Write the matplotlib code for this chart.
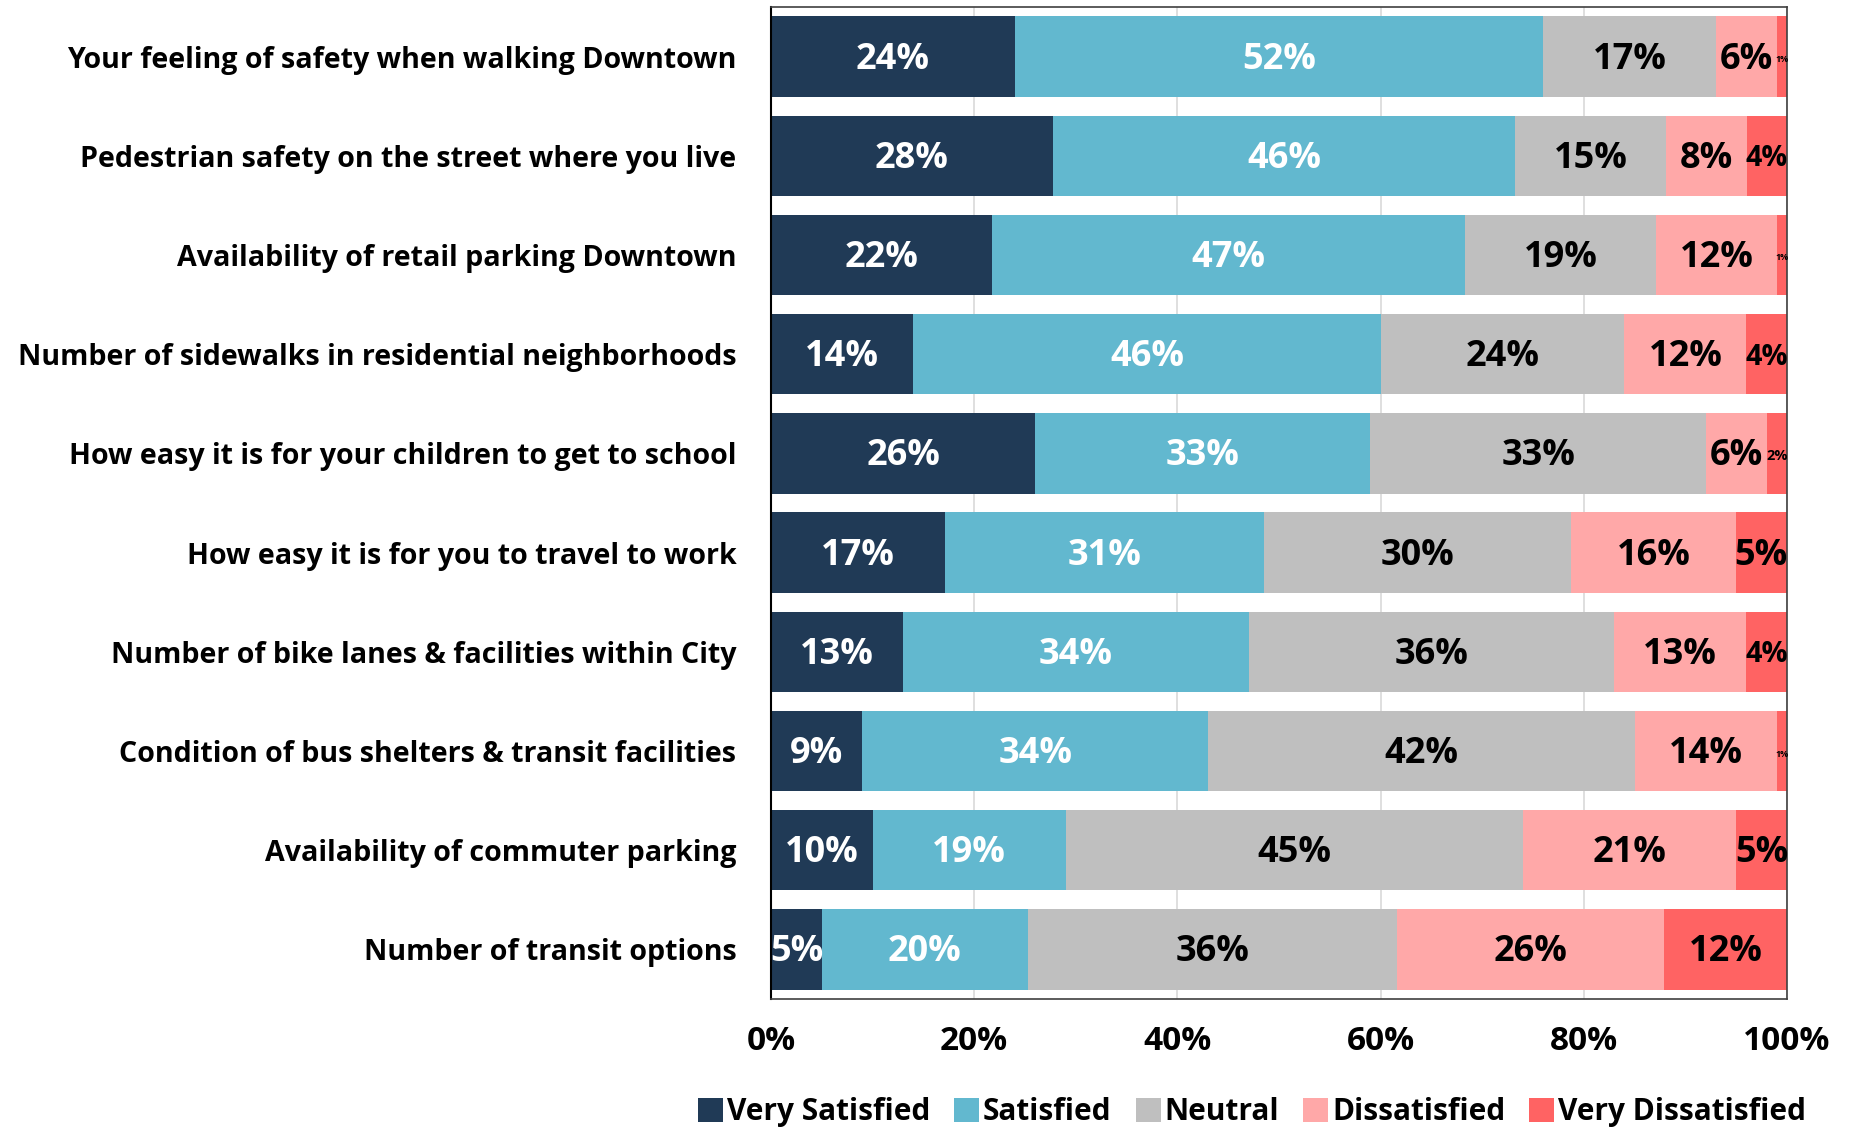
import matplotlib
matplotlib.use("Agg")
import matplotlib.pyplot as plt
import numpy as np

categories = [
    "Your feeling of safety when walking Downtown",
    "Pedestrian safety on the street where you live",
    "Availability of retail parking Downtown",
    "Number of sidewalks in residential neighborhoods",
    "How easy it is for your children to get to school",
    "How easy it is for you to travel to work",
    "Number of bike lanes & facilities within City",
    "Condition of bus shelters & transit facilities",
    "Availability of commuter parking",
    "Number of transit options",
]
series_names = ["Very Satisfied", "Satisfied", "Neutral", "Dissatisfied", "Very Dissatisfied"]
very_satisfied = [24, 28, 22, 14, 26, 17, 13, 9, 10, 5]
satisfied = [52, 46, 47, 46, 33, 31, 34, 34, 19, 20]
neutral = [17, 15, 19, 24, 33, 30, 36, 42, 45, 36]
dissatisfied = [6, 8, 12, 12, 6, 16, 13, 14, 21, 26]
very_dissatisfied = [1, 4, 1, 4, 2, 5, 4, 1, 5, 12]
tick_labels = ["0%", "20%", "40%", "60%", "80%", "100%"]

colors = ["#203A56", "#62B8CF", "#BFBFBF", "#FFA8A8", "#FF6363"]
text_colors = ["white", "white", "black", "black", "black"]

main_font = "Open Sans"

fig = plt.figure(figsize=(18.52, 11.29), dpi=100)
ax = fig.add_axes([0.4163, 0.1151, 0.9649 - 0.4163, 0.9938 - 0.1151])

data = np.array([very_satisfied, satisfied, neutral, dissatisfied, very_dissatisfied], dtype=float)
# 100% stacked: each row normalised to its total
shares = data / data.sum(axis=0) * 100

y = np.arange(len(categories))
left = np.zeros(len(categories))
bar_h = 0.81
for i, name in enumerate(series_names):
    ax.barh(y, shares[i], left=left, height=bar_h, color=colors[i],
            label=name, zorder=2, edgecolor="none")
    left += shares[i]

ax.set_xlim(0, 100)
ax.set_ylim(len(categories) - 0.5, -0.5)
ax.set_yticks(y)
ax.set_yticklabels(categories, fontfamily=main_font, fontweight="bold", fontsize=20.6)
ax.set_xticks([0, 20, 40, 60, 80, 100])
ax.set_xticklabels(tick_labels, fontfamily=main_font, fontweight="bold", fontsize=24)
ax.tick_params(axis="both", length=0)
ax.tick_params(axis="y", pad=25)
ax.tick_params(axis="x", pad=19)
ax.grid(axis="x", color="#D9D9D9", linewidth=1.2, zorder=0)
ax.set_axisbelow(True)
for side in ["top", "right", "bottom"]:
    ax.spines[side].set_color("#404040")
    ax.spines[side].set_linewidth(1.2)
ax.spines["left"].set_color("black")
ax.spines["left"].set_linewidth(1.5)

# segment labels, shrunk to fit narrow segments
fig.canvas.draw()
renderer = fig.canvas.get_renderer()
px_per_unit = ax.transData.transform((1, 0))[0] - ax.transData.transform((0, 0))[0]
base_size = 26
for i in range(len(series_names)):
    for j in range(len(categories)):
        val = data[i, j]
        share = shares[i, j]
        x0 = shares[:i, j].sum()
        txt = ax.text(x0 + share / 2, y[j] + 0.03, f"{val:.0f}%", ha="center", va="center",
                      color=text_colors[i], fontfamily=main_font, fontweight="bold",
                      fontsize=base_size, zorder=3)
        w = txt.get_window_extent(renderer).width
        avail = share * px_per_unit * 1.05
        if w > avail:
            txt.set_fontsize(max(base_size * avail / w, 6.5))

fig.legend(loc="lower center", bbox_to_anchor=(0.676, -0.022), ncol=5, frameon=False,
           prop={"family": main_font, "weight": "bold", "size": 21.5},
           handlelength=0.85, handleheight=0.85, handletextpad=0.12, columnspacing=0.8)

fig.savefig("out.png", dpi=100)
